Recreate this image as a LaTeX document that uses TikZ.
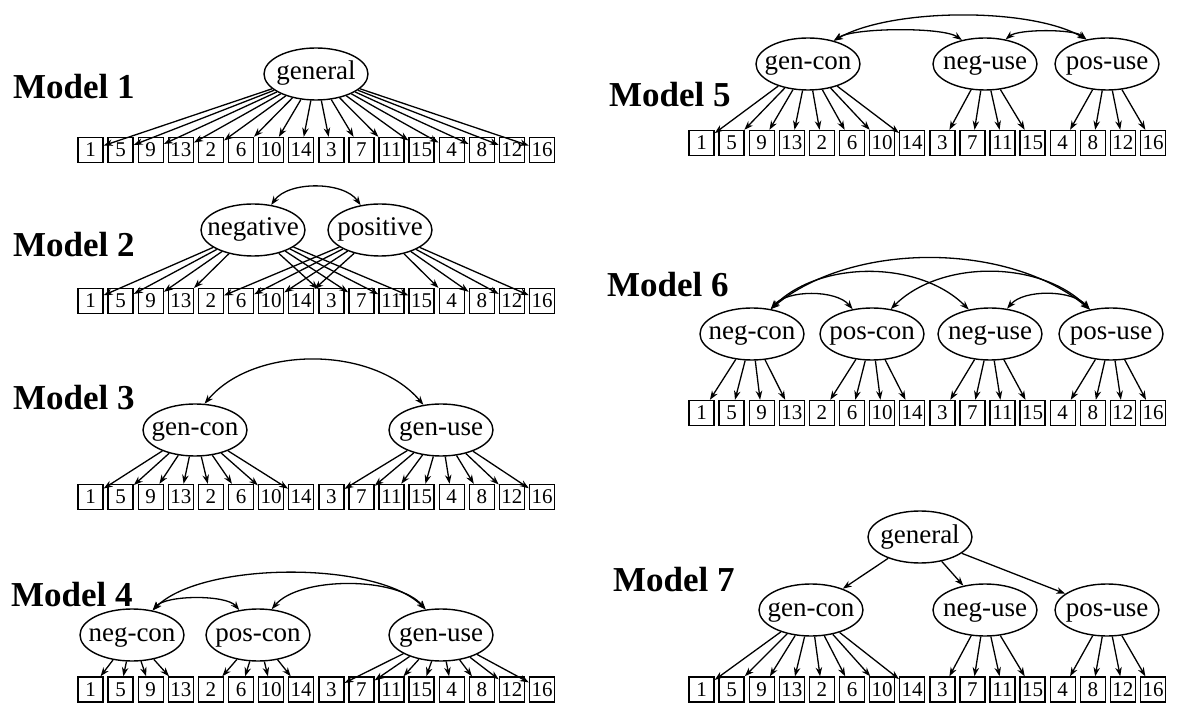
\documentclass[tikz,border=0pt]{standalone}
\usepackage{fontspec}
\setmainfont{Liberation Serif}
\usetikzlibrary{shapes,arrows.meta}

\tikzset{
  itembox/.style={draw, line width=1.4pt, minimum width=25pt, minimum height=25pt, inner sep=0pt, font=\fontsize{21}{21}\selectfont},
  factor/.style={draw, ellipse, line width=1.4pt, minimum width=104pt, minimum height=52pt, inner sep=0pt, text height=18pt, text depth=6pt, font=\fontsize{27}{27}\selectfont},
  loadarrow/.style={line width=1.3pt, -{Stealth[length=9pt,width=6.5pt]}},
  corrarrow/.style={line width=1.3pt, {Stealth[length=9pt,width=6.5pt]}-{Stealth[length=9pt,width=6.5pt]}},
  modellabel/.style={anchor=west, inner sep=0pt, font=\fontsize{35}{35}\selectfont\bfseries}
}

% row of the 16 items: prefix, x of first centre, y
\newcommand{\itemrow}[3]{
  \node[itembox] (#1b1) at (#2, #3) {1};
  \node[itembox] (#1b5) at (#2+30.1, #3) {5};
  \node[itembox] (#1b9) at (#2+60.2, #3) {9};
  \node[itembox] (#1b13) at (#2+90.3, #3) {13};
  \node[itembox] (#1b2) at (#2+120.4, #3) {2};
  \node[itembox] (#1b6) at (#2+150.5, #3) {6};
  \node[itembox] (#1b10) at (#2+180.6, #3) {10};
  \node[itembox] (#1b14) at (#2+210.7, #3) {14};
  \node[itembox] (#1b3) at (#2+240.8, #3) {3};
  \node[itembox] (#1b7) at (#2+270.9, #3) {7};
  \node[itembox] (#1b11) at (#2+301.0, #3) {11};
  \node[itembox] (#1b15) at (#2+331.1, #3) {15};
  \node[itembox] (#1b4) at (#2+361.2, #3) {4};
  \node[itembox] (#1b8) at (#2+391.3, #3) {8};
  \node[itembox] (#1b12) at (#2+421.4, #3) {12};
  \node[itembox] (#1b16) at (#2+451.5, #3) {16};
}
\newcommand{\factor}[4]{\node[factor] (#1) at (#2, #3) {\makebox[0pt]{#4}};}
\newcommand{\ld}[2]{\draw[loadarrow] (#1) -- (#2);}
\newcommand{\cor}[5]{\draw[corrarrow] (#1) to[out=#3, in=#4, looseness=#5] (#2);}

\begin{document}
\begin{tikzpicture}[x=1pt,y=1pt]
        \useasboundingbox (0,0) rectangle (1178,702);

        % model 1
        \node[modellabel] (lab1) at (13,615) {Model 1};
        \factor{m1gen}{316}{628}{general}
        \itemrow{m1}{90.5}{552}
        \ld{m1gen}{m1b1} \ld{m1gen}{m1b5} \ld{m1gen}{m1b9} \ld{m1gen}{m1b13}
        \ld{m1gen}{m1b2} \ld{m1gen}{m1b6} \ld{m1gen}{m1b10} \ld{m1gen}{m1b14}
        \ld{m1gen}{m1b3} \ld{m1gen}{m1b7} \ld{m1gen}{m1b11} \ld{m1gen}{m1b15}
        \ld{m1gen}{m1b4} \ld{m1gen}{m1b8} \ld{m1gen}{m1b12} \ld{m1gen}{m1b16}

        % model 2
        \node[modellabel] (lab2) at (13,457) {Model 2};
        \factor{m2neg}{253}{472}{negative}
        \factor{m2pos}{380}{472}{positive}
        \itemrow{m2}{90.5}{401}
        \cor{m2neg.54}{m2pos.128}{55}{125}{0.84}
        \ld{m2neg}{m2b1} \ld{m2neg}{m2b5} \ld{m2neg}{m2b9} \ld{m2neg}{m2b13}
        \ld{m2neg}{m2b3} \ld{m2neg}{m2b7} \ld{m2neg}{m2b11} \ld{m2neg}{m2b15}
        \ld{m2pos}{m2b2} \ld{m2pos}{m2b6} \ld{m2pos}{m2b10} \ld{m2pos}{m2b14}
        \ld{m2pos}{m2b4} \ld{m2pos}{m2b8} \ld{m2pos}{m2b12} \ld{m2pos}{m2b16}

        % model 3
        \node[modellabel] (lab3) at (13,304) {Model 3};
        \factor{m3gc}{195}{272}{gen-con}
        \factor{m3gu}{441}{272}{gen-use}
        \itemrow{m3}{90.5}{205}
        \cor{m3gc.70}{m3gu.125}{50}{130}{0.9}
        \ld{m3gc}{m3b1} \ld{m3gc}{m3b5} \ld{m3gc}{m3b9} \ld{m3gc}{m3b13}
        \ld{m3gc}{m3b2} \ld{m3gc}{m3b6} \ld{m3gc}{m3b10} \ld{m3gc}{m3b14}
        \ld{m3gu}{m3b3} \ld{m3gu}{m3b7} \ld{m3gu}{m3b11} \ld{m3gu}{m3b15}
        \ld{m3gu}{m3b4} \ld{m3gu}{m3b8} \ld{m3gu}{m3b12} \ld{m3gu}{m3b16}

        % model 4
        \node[modellabel] (lab4) at (11,107) {Model 4};
        \factor{m4nc}{132}{67}{neg-con}
        \factor{m4pc}{258}{67}{pos-con}
        \factor{m4gu}{441}{67}{gen-use}
        \itemrow{m4}{90.5}{12.5}
        \cor{m4nc.50}{m4pc.127}{50}{130}{0.6}
        \cor{m4pc.62}{m4gu.121}{50}{130}{0.72}
        \cor{m4nc.50}{m4gu.121}{45}{135}{0.65}
        \ld{m4nc}{m4b1} \ld{m4nc}{m4b5} \ld{m4nc}{m4b9} \ld{m4nc}{m4b13}
        \ld{m4pc}{m4b2} \ld{m4pc}{m4b6} \ld{m4pc}{m4b10} \ld{m4pc}{m4b14}
        \ld{m4gu}{m4b3} \ld{m4gu}{m4b7} \ld{m4gu}{m4b11} \ld{m4gu}{m4b15}
        \ld{m4gu}{m4b4} \ld{m4gu}{m4b8} \ld{m4gu}{m4b12} \ld{m4gu}{m4b16}

        % model 5
        \node[modellabel] (lab5) at (609,607) {Model 5};
        \factor{m5gc}{808}{638}{gen-con}
        \factor{m5nu}{985}{638}{neg-use}
        \factor{m5pu}{1107}{638}{pos-use}
        \itemrow{m5}{701.5}{559}
        \cor{m5gc.42}{m5nu.134}{35}{145}{0.46}
        \cor{m5nu.50}{m5pu.130}{40}{140}{0.52}
        \cor{m5gc.42}{m5pu.130}{30}{150}{0.66}
        \ld{m5gc}{m5b1} \ld{m5gc}{m5b5} \ld{m5gc}{m5b9} \ld{m5gc}{m5b13}
        \ld{m5gc}{m5b2} \ld{m5gc}{m5b6} \ld{m5gc}{m5b10} \ld{m5gc}{m5b14}
        \ld{m5nu}{m5b3} \ld{m5nu}{m5b7} \ld{m5nu}{m5b11} \ld{m5nu}{m5b15}
        \ld{m5pu}{m5b4} \ld{m5pu}{m5b8} \ld{m5pu}{m5b12} \ld{m5pu}{m5b16}

        % model 6
        \node[modellabel] (lab6) at (607,417) {Model 6};
        \factor{m6nc}{752}{368}{neg-con}
        \factor{m6pc}{872}{368}{pos-con}
        \factor{m6nu}{990}{368}{neg-use}
        \factor{m6pu}{1111}{368}{pos-use}
        \itemrow{m6}{701.5}{289}
        \cor{m6nc.53}{m6pc.128}{50}{130}{0.8}
        \cor{m6nc.53}{m6nu.131}{45}{135}{0.9}
        \cor{m6nc.53}{m6pu.131}{40}{140}{0.85}
        \cor{m6pc.53}{m6pu.131}{45}{135}{0.9}
        \cor{m6nu.56}{m6pu.131}{50}{130}{0.8}
        \ld{m6nc}{m6b1} \ld{m6nc}{m6b5} \ld{m6nc}{m6b9} \ld{m6nc}{m6b13}
        \ld{m6pc}{m6b2} \ld{m6pc}{m6b6} \ld{m6pc}{m6b10} \ld{m6pc}{m6b14}
        \ld{m6nu}{m6b3} \ld{m6nu}{m6b7} \ld{m6nu}{m6b11} \ld{m6nu}{m6b15}
        \ld{m6pu}{m6b4} \ld{m6pu}{m6b8} \ld{m6pu}{m6b12} \ld{m6pu}{m6b16}

        % model 7
        \node[modellabel] (lab7) at (613,122) {Model 7};
        \factor{m7gen}{920}{165}{general}
        \factor{m7gc}{811}{92}{gen-con}
        \factor{m7nu}{985}{92}{neg-use}
        \factor{m7pu}{1107}{92}{pos-use}
        \itemrow{m7}{701.5}{12.5}
        \ld{m7gen}{m7gc} \ld{m7gen}{m7nu} \ld{m7gen}{m7pu}
        \ld{m7gc}{m7b1} \ld{m7gc}{m7b5} \ld{m7gc}{m7b9} \ld{m7gc}{m7b13}
        \ld{m7gc}{m7b2} \ld{m7gc}{m7b6} \ld{m7gc}{m7b10} \ld{m7gc}{m7b14}
        \ld{m7nu}{m7b3} \ld{m7nu}{m7b7} \ld{m7nu}{m7b11} \ld{m7nu}{m7b15}
        \ld{m7pu}{m7b4} \ld{m7pu}{m7b8} \ld{m7pu}{m7b12} \ld{m7pu}{m7b16}

    \end{tikzpicture}
\end{document}
